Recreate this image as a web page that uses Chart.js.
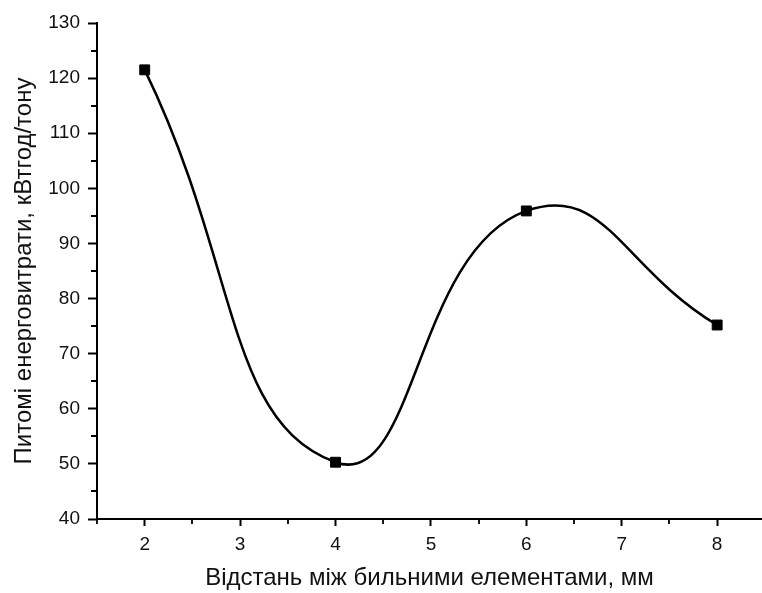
<!DOCTYPE html>
<html>
<head>
<meta charset="utf-8">
<script src="https://cdn.jsdelivr.net/npm/chart.js@4"></script>
<style>
  html, body { margin: 0; padding: 0; background: #fff; }
  #wrap { width: 762px; height: 593px; }
</style>
</head>
<body>
<div id="wrap"><canvas id="chart" width="762" height="593"></canvas></div>
<script>
// data
const distances = [2, 4, 6, 8];
const energy = [121.5, 50.3, 95.9, 75.2];

const xTicks = [2, 3, 4, 5, 6, 7, 8];
const xMinorTicks = [1.5, 2.5, 3.5, 4.5, 5.5, 6.5, 7.5];
const yTicks = [40, 50, 60, 70, 80, 90, 100, 110, 120, 130];
const yMinorTicks = [45, 55, 65, 75, 85, 95, 105, 115, 125];

const xTitle = "Відстань між бильними елементами, мм";
const yTitle = "Питомі енерговитрати, кВтгод/тону";

const FONT = "'Liberation Sans', Arial, sans-serif";

// short minor ticks, drawn outward from the axis lines
const minorTicks = {
    id: "minorTicks",
    afterDraw(chart) {
        let ctx = chart.ctx;
        let x = chart.scales.x, y = chart.scales.y;
        let area = chart.chartArea;
        ctx.save();
        ctx.strokeStyle = "#000";
        ctx.lineWidth = 1.8;
        ctx.beginPath();
        xMinorTicks.forEach(v => {
            let px = Math.round(x.getPixelForValue(v));
            ctx.moveTo(px, area.bottom);
            ctx.lineTo(px, area.bottom + 5);
        });
        yMinorTicks.forEach(v => {
            let py = Math.round(y.getPixelForValue(v));
            ctx.moveTo(area.left, py);
            ctx.lineTo(area.left - 6, py);
        });
        ctx.stroke();
        ctx.restore();
    }
};

new Chart(document.getElementById("chart").getContext("2d"), {
    type: "line",
    data: {
        datasets: [{
            data: distances.map((d, i) => ({ x: d, y: energy[i] })),
            borderColor: "#000",
            borderWidth: 2.5,
            tension: 0.5,
            pointStyle: "rect",
            pointRadius: 7,
            pointBorderWidth: 1,
            pointBackgroundColor: "#000",
            pointBorderColor: "#000",
            fill: false
        }]
    },
    plugins: [minorTicks],
    options: {
        responsive: false,
        animation: false,
        layout: { autoPadding: false, padding: { top: 23, right: 0, left: 0, bottom: 0 } },
        plugins: {
            legend: { display: false },
            tooltip: { enabled: false }
        },
        scales: {
            x: {
                type: "linear",
                min: 1.5,
                max: 8.47,
                afterBuildTicks: scale => { scale.ticks = xTicks.map(v => ({ value: v })); },
                afterFit: scale => {
                    scale.height = 74;
                    scale.paddingLeft = 0;
                    scale.paddingRight = 0;
                },
                border: { display: true, color: "#000", width: 2 },
                grid: { drawOnChartArea: false, drawTicks: true, tickLength: 7, tickColor: "#000", tickWidth: 2 },
                ticks: { color: "#111", font: { family: FONT, size: 19 }, padding: 7, maxRotation: 0 },
                title: { display: true, text: xTitle, color: "#111", font: { family: FONT, size: 24 }, padding: { top: 8, bottom: 0 } }
            },
            y: {
                min: 40,
                max: 130,
                afterBuildTicks: scale => { scale.ticks = yTicks.map(v => ({ value: v })); },
                afterFit: scale => {
                    scale.width = 97;
                    scale.paddingTop = 0;
                    scale.paddingBottom = 0;
                },
                border: { display: true, color: "#000", width: 2 },
                grid: { drawOnChartArea: false, drawTicks: true, tickLength: 9, tickColor: "#000", tickWidth: 2 },
                ticks: { color: "#111", font: { family: FONT, size: 19 }, padding: 8 },
                title: { display: true, text: yTitle, color: "#111", font: { family: FONT, size: 24 }, padding: { top: 10, bottom: 4 } }
            }
        }
    }
});
</script>
</body>
</html>
